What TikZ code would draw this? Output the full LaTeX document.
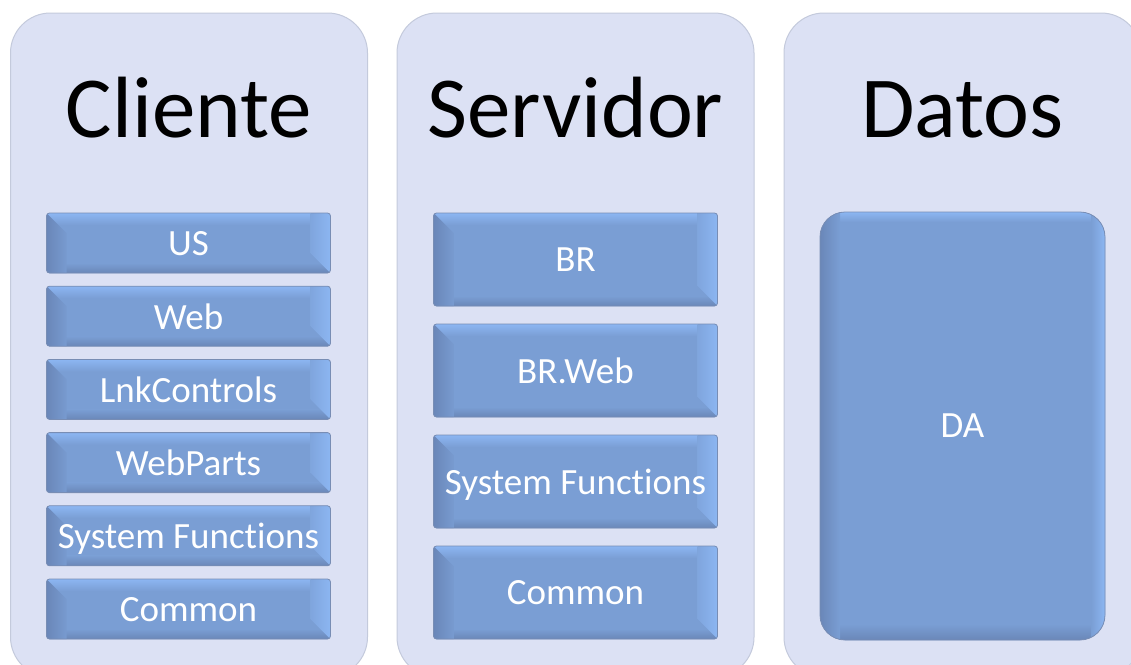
\documentclass[tikz,border=0pt]{standalone}
\usepackage{fontspec}
\setmainfont{Carlito}[Ligatures=NoCommon]
\usetikzlibrary{calc}

\definecolor{panelfill}{RGB}{220,225,244}
\definecolor{panelline}{RGB}{196,202,220}
\definecolor{boxfill}{RGB}{122,158,212}
\definecolor{boxdark}{RGB}{106,135,184}
\definecolor{boxlight}{RGB}{140,182,242}
\definecolor{boxline}{RGB}{120,141,180}

\begin{document}
\begin{tikzpicture}[x=1pt,y=-1pt,
	panel/.style={draw=panelline,line width=1pt,fill=panelfill,rounded corners=40pt,
		minimum width=357pt,minimum height=664pt,inner sep=0pt},
	title/.style={font=\fontsize{87}{100}\selectfont,anchor=base},
	layer/.style={draw=boxline,line width=0.8pt,fill=boxfill,rounded corners=3pt,
		text=white,font=\fontsize{37}{44}\selectfont,inner sep=0pt,text depth=0pt,
		minimum width=284pt,
		path picture={
			\coordinate (nw) at (path picture bounding box.north west);
			\coordinate (se) at (path picture bounding box.south east);
			% light top edge, dark bottom edge
			\shade[sharp corners,top color=boxlight,bottom color=boxfill]
				(nw) rectangle ($(se|-nw)+(0,-12pt)$);
			\shade[sharp corners,top color=boxfill,bottom color=boxdark]
				($(nw|-se)+(0,10pt)$) rectangle (se);
			% bevelled side facets
			\shade[sharp corners,left color=boxdark,right color=boxfill!85!boxdark]
				(nw) -- ++(20pt,-20pt) |- (nw|-se) -- cycle;
			\shade[sharp corners,left color=boxfill!70!boxlight,right color=boxlight]
				(se) -- ++(-20pt,20pt) |- (se|-nw) -- cycle;
		}},
	store/.style={draw=boxline,line width=0.8pt,fill=boxfill,rounded corners=25pt,
		text=white,font=\fontsize{37}{44}\selectfont,inner sep=0pt,text depth=0pt,
		minimum width=285pt,
		path picture={
			\coordinate (nw) at (path picture bounding box.north west);
			\coordinate (se) at (path picture bounding box.south east);
			% soft inner shadow round the edges
			\shade[sharp corners,top color=boxlight,bottom color=boxfill]
				(nw) rectangle ($(se|-nw)+(0,-10pt)$);
			\shade[sharp corners,top color=boxfill,bottom color=boxdark]
				($(nw|-se)+(0,16pt)$) rectangle (se);
			\shade[sharp corners,left color=boxdark,right color=boxfill]
				(nw) rectangle ($(nw|-se)+(20pt,0)$);
			\shade[sharp corners,left color=boxfill,right color=boxlight]
				($(se|-nw)+(-14pt,0)$) rectangle (se);
		}}
	]
	\useasboundingbox (0,0) rectangle (1131,664);
	\fill[white] (0,0) rectangle (1131,664);
	\clip (0,0) rectangle (1131,664);

	% Columns
	\node[panel] (cliente) at (189,345) {};
	\node[panel] (servidor) at (575.5,345) {};
	\node[panel] (datos) at (962.5,345) {};

	\node[title] (tcliente) at (189,137) {Cliente};
	\node[title] (tservidor) at (575.5,137) {Servidor};
	\node[title] (tdatos) at (962.5,137) {Datos};

	% Client layers
	\foreach \name/\txt [count=\i from 0] in {us/US,web/Web,lnk/LnkControls,
		parts/WebParts,sysc/System Functions,commc/Common}
		\node[layer,minimum height=60pt] (\name) at (188.5,{243+73.2*\i}) {\txt};

	% Server layers
	\foreach \name/\txt [count=\i from 0] in {br/BR,brweb/BR.Web,
		syss/System Functions,comms/Common}
		\node[layer,minimum height=93pt] (\name) at (575.5,{259.5+111*\i}) {\txt};

	% Data access
	\node[store,minimum height=428pt] (da) at (962.5,426) {DA};
\end{tikzpicture}
\end{document}
